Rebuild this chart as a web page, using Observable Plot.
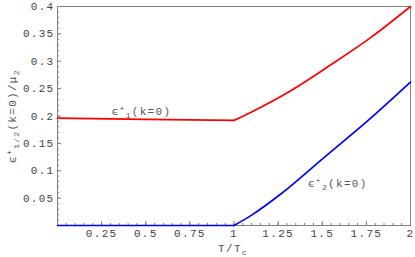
<!DOCTYPE html>
<html><head><meta charset="utf-8">
<script src="https://cdn.jsdelivr.net/npm/d3@7"></script>
<script src="https://cdn.jsdelivr.net/npm/@observablehq/plot@0.6"></script>
<style>
body{margin:0;background:#fff;}
</style>
</head><body><div id="chart"></div>
<script>
// Data
const redT = [0, 0.5, 1, 1.097, 1.324, 1.551, 1.778, 2];
const redE = [0.196, 0.194, 0.192, 0.207, 0.2466, 0.294, 0.344, 0.4];
const blueT = [0, 1, 1.1, 1.267, 1.513, 1.76, 2];
const blueE = [0, 0, 0.019, 0.058, 0.125, 0.192, 0.262];

const xTicks = [0.25, 0.5, 0.75, 1, 1.25, 1.5, 1.75, 2];
const yTicks = [0.05, 0.1, 0.15, 0.2, 0.25, 0.3, 0.35, 0.4];
const xMinor = d3.range(1, 40).map(i => i * 0.05);
const yMinor = d3.range(1, 40).map(i => i * 0.01);

const labelT = [0.307, 1.419];
const labelE = [0.201, 0.07];
const labelSub = ["1", "2"];
const labelTail = "(k=0)";

const red = redT.map((t, i) => ({t, e: redE[i]}));
const blue = blueT.map((t, i) => ({t, e: blueE[i]}));
const labels = labelT.map((t, i) => ({t, e: labelE[i], sub: labelSub[i]}));

const grey = "#808080";
const lw = 1.7;
const plot = Plot.plot({
  width: 415, height: 257,
  marginLeft: 57, marginRight: 5, marginTop: 6, marginBottom: 32,
  style: {fontFamily: "'Liberation Mono', monospace", fontSize: "11px", color: "#444", background: "#fff"},
  x: {domain: [0, 2]},
  y: {domain: [0, 0.4]},
  marks: [
    Plot.frame({stroke: grey}),
    Plot.tickX(xMinor, {x: d => d, insetTop: 217, stroke: grey}),
    Plot.tickX(xTicks, {x: d => d, insetTop: 215, stroke: grey}),
    Plot.tickY(yMinor, {y: d => d, insetRight: 351, stroke: grey}),
    Plot.tickY(yTicks, {y: d => d, insetRight: 349, stroke: grey}),
    Plot.axisX({ticks: xTicks, tickSize: 0, tickPadding: 4, tickFormat: d => String(d), label: null}),
    Plot.axisY({ticks: yTicks, tickSize: 0, tickPadding: 3, tickFormat: d => String(+d.toFixed(2)), label: null}),
    Plot.line(red.filter(d => d.t <= 1), {x: "t", y: "e", stroke: "#ff0000", strokeWidth: lw}),
    Plot.line(red.filter(d => d.t >= 1), {x: "t", y: "e", stroke: "#ff0000", strokeWidth: lw, curve: "monotone-x"}),
    Plot.line(blue.filter(d => d.t <= 1), {x: "t", y: "e", stroke: "#0000ff", strokeWidth: lw}),
    Plot.line(blue.filter(d => d.t >= 1), {x: "t", y: "e", stroke: "#0000ff", strokeWidth: lw, curve: "monotone-x"}),
    Plot.text(labels, {x: "t", y: "e", text: d => "ϵ+" + d.sub + labelTail, textAnchor: "start", lineAnchor: "bottom", fill: "#555", className: "curvelabel"})
  ]
});
document.getElementById("chart").appendChild(plot);

const svg = d3.select(plot);
svg.selectAll("text").attr("letter-spacing", "1.3");
svg.selectAll(".curvelabel text").each(function(d, i) {
  const el = d3.select(this);
  const sub = labels[i] ? labels[i].sub : "";
  el.text(null);
  el.append("tspan").text("ϵ");
  el.append("tspan").attr("dy", "-4").attr("font-size", "8").text("+");
  el.append("tspan").attr("dy", "7").attr("font-size", "8").text(sub);
  el.append("tspan").attr("dy", "-3").text(labelTail);
});
// axis titles
const yl = svg.append("text").attr("transform", "translate(16,116) rotate(-90)")
  .attr("text-anchor", "middle").attr("fill", "#555").attr("letter-spacing", "1.3");
yl.append("tspan").text("ϵ");
yl.append("tspan").attr("dy", "-4").attr("font-size", "8").text("+");
yl.append("tspan").attr("dy", "7").attr("font-size", "8").text("1/2");
yl.append("tspan").attr("dy", "-3").text("(k=0)/μ");
yl.append("tspan").attr("dy", "3").attr("font-size", "8").text("2");
const xl = svg.append("text").attr("x", 233).attr("y", 252)
  .attr("text-anchor", "middle").attr("fill", "#555").attr("letter-spacing", "1.3");
xl.append("tspan").text("T/T");
xl.append("tspan").attr("dy", "3").attr("font-size", "8").text("c");
</script>
</body></html>
